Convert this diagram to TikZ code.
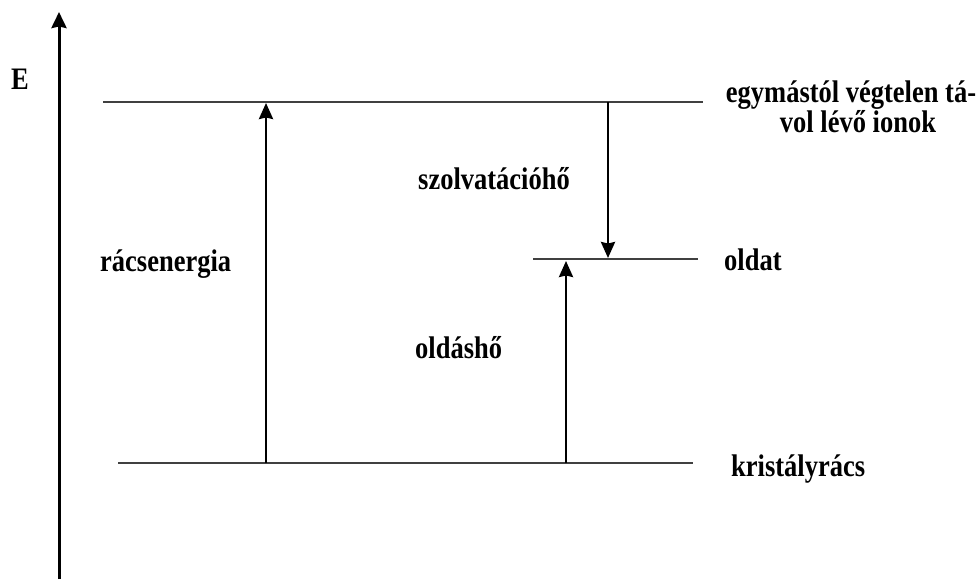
\documentclass[tikz,border=0pt]{standalone}
\usepackage{graphicx}
\usepackage{fontspec}
\setmainfont{Liberation Serif}
\usetikzlibrary{arrows.meta}
% slightly tall bold label text
\newcommand{\tallbf}[1]{\scalebox{1}[1.18]{#1}}
\begin{document}
\begin{tikzpicture}[x=1pt,y=-1pt,
  level/.style={line width=1.6pt, draw=black!75},
  jump/.style={line width=2.6pt, -{Stealth[length=16pt,width=14pt,inset=1.5pt]}},
  lbl/.style={font=\bfseries\fontsize{26.5}{31}\selectfont, inner sep=0pt, anchor=base west},
  clbl/.style={lbl, anchor=base}]
\useasboundingbox (0,0) rectangle (979,579);

% energy axis
\coordinate (axbot) at (59,579);
\coordinate (axtop) at (59,12);
\draw[line width=3pt, -{Stealth[length=16pt,width=15pt,inset=1.5pt]}] (axbot) -- (axtop);
\node[lbl] (E) at (11,89) {\tallbf{E}};

% energy levels
\coordinate (ionsL) at (103,102);  \coordinate (ionsR) at (703,102);
\coordinate (solL)  at (533,259);  \coordinate (solR)  at (698,259);
\coordinate (crysL) at (118,463);  \coordinate (crysR) at (693,463);
\draw[level] (ionsL) -- (ionsR);
\draw[level] (solL) -- (solR);
\draw[level] (crysL) -- (crysR);

% transitions
\coordinate (latBot) at (266,463); \coordinate (latTop) at (266,103);
\coordinate (solvTop) at (608,102); \coordinate (solvBot) at (608,258);
\coordinate (dissBot) at (566,463); \coordinate (dissTop) at (566,261);
\draw[jump] (latBot) -- (latTop);
\draw[jump] (solvTop) -- (solvBot);
\draw[jump] (dissBot) -- (dissTop);

% labels
\node[lbl] (lat) at (100,271) {\tallbf{rácsenergia}};
\node[lbl] (solv) at (418,189) {\tallbf{szolvatációhő}};
\node[lbl] (diss) at (415,358) {\tallbf{oldáshő}};
\node[lbl] (sol) at (724,270) {\tallbf{oldat}};
\node[lbl] (crys) at (731,476) {\tallbf{kristályrács}};
\node[clbl] (ions1) at (851,102) {\tallbf{egymástól végtelen tá-}};
\node[clbl] (ions2) at (858,132) {\tallbf{vol lévő ionok}};
\end{tikzpicture}
\end{document}
